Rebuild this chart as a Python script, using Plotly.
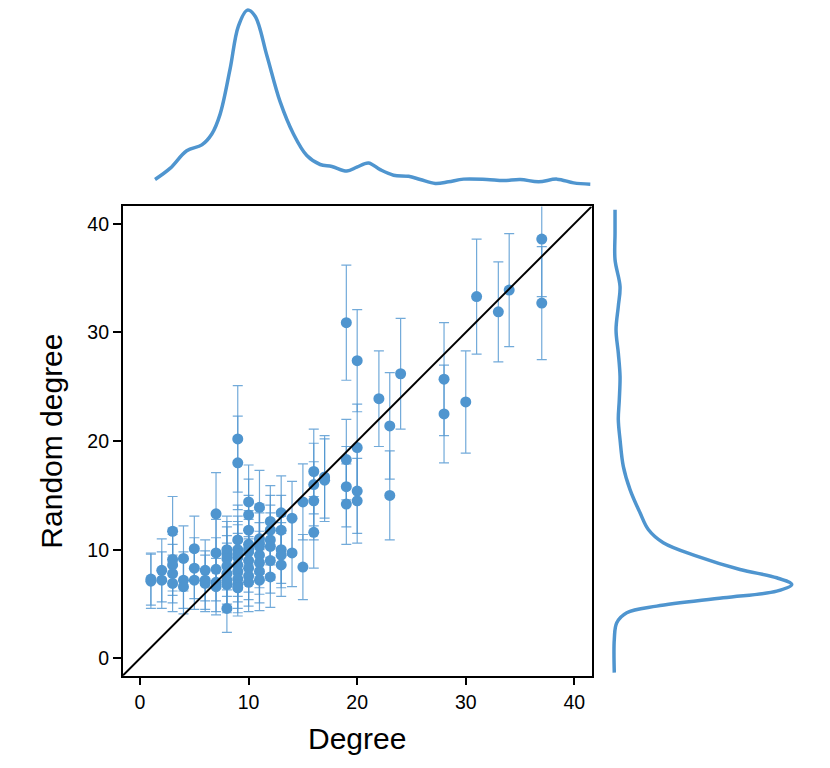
import plotly.graph_objects as go

# Observed degree vs. mean degree in randomised networks (with std)
degree = [1, 1, 2, 2, 3, 3, 3, 3, 3, 4, 4, 4, 5, 5, 5, 6, 6, 6,
          7, 7, 7, 7, 7, 8, 8, 8, 8, 8, 8, 8, 8,
          9, 9, 9, 9, 9, 9, 9, 9, 9, 9, 9,
          10, 10, 10, 10, 10, 10, 10, 10, 10, 10,
          11, 11, 11, 11, 11, 11, 11, 11,
          12, 12, 12, 12, 12, 12, 13, 13, 13, 13, 13,
          14, 14, 15, 15, 16, 16, 16, 16, 17, 17,
          19, 19, 19, 19, 20, 20, 20, 20, 22, 23, 23, 24,
          28, 28, 30, 31, 33, 34, 37, 37]
random_degree = [7.1, 7.3, 8.1, 7.2, 11.7, 9.1, 8.6, 7.8, 6.9, 9.2, 7.2, 6.6, 10.1, 8.3, 7.2, 8.1, 7.2, 6.9,
                 13.3, 9.7, 8.2, 7.0, 6.6, 10.0, 9.6, 9.2, 8.5, 7.8, 7.2, 6.8, 4.6,
                 20.2, 18.0, 10.9, 10.0, 9.6, 9.3, 8.6, 8.0, 7.3, 6.8, 6.5,
                 14.4, 13.2, 11.8, 10.5, 10.1, 9.8, 9.0, 8.3, 7.6, 7.0,
                 13.9, 11.0, 10.6, 10.3, 9.5, 8.8, 8.0, 7.2,
                 12.6, 11.8, 10.9, 10.3, 9.0, 7.5, 13.4, 11.8, 10.0, 9.5, 8.6,
                 12.9, 9.7, 14.4, 8.4, 17.2, 16.0, 14.5, 11.6, 16.4, 16.7,
                 30.9, 18.3, 15.8, 14.2, 27.4, 19.4, 15.4, 14.5, 23.9, 21.4, 15.0, 26.2,
                 25.7, 22.5, 23.6, 33.3, 31.9, 33.9, 38.6, 32.7]
random_std = [2.5, 2.4, 2.9, 2.6, 3.2, 2.9, 2.8, 2.7, 2.6, 3.0, 2.6, 2.5, 3.0, 2.8, 2.7, 2.8, 2.7, 2.6,
              3.8, 3.1, 2.9, 2.7, 2.6, 3.1, 3.0, 2.9, 2.8, 2.8, 2.7, 2.6, 2.2,
              4.9, 4.3, 3.2, 3.1, 3.0, 3.0, 2.9, 2.8, 2.7, 2.6, 2.6,
              3.4, 3.3, 3.2, 3.1, 3.1, 3.0, 2.9, 2.9, 2.8, 2.7,
              3.4, 3.2, 3.1, 3.1, 3.0, 2.9, 2.9, 2.8,
              3.3, 3.2, 3.2, 3.1, 3.0, 2.8, 3.4, 3.2, 3.1, 3.0, 2.9,
              3.4, 3.1, 3.5, 3.0, 3.9, 3.8, 3.6, 3.3, 3.8, 3.8,
              5.3, 3.7, 3.7, 3.7, 4.7, 4.0, 3.9, 3.9, 4.4, 4.9, 4.1, 5.1,
              5.2, 4.5, 4.7, 5.3, 4.6, 5.2, 5.3, 5.2]

# marginal density of degree (top)
deg_grid = [1.38, 2.76, 4.30, 5.69, 6.61, 7.37, 8.29, 9.06, 9.89, 10.60, 11.68, 12.90,
            14.13, 15.36, 16.59, 17.67, 19.05, 19.97, 21.04, 22.12, 23.35, 24.73,
            25.81, 27.19, 28.41, 29.80, 31.95, 33.48, 35.02, 36.71, 38.40, 39.94, 41.47]
deg_density = [0.0059, 0.0121, 0.0220, 0.0253, 0.0314, 0.0424, 0.0677, 0.0919, 0.1008, 0.0974,
               0.0754, 0.0495, 0.0314, 0.0193, 0.0143, 0.0132, 0.0106, 0.0128, 0.0152, 0.0114,
               0.0083, 0.0077, 0.0059, 0.0037, 0.0046, 0.0061, 0.0059, 0.0053, 0.0059, 0.0046,
               0.0061, 0.0040, 0.0033]

# marginal density of random degree (right)
rand_grid = [41.29, 39.15, 36.69, 34.23, 32.40, 30.25, 28.11, 25.96, 23.82, 21.98, 20.14,
             17.68, 15.54, 13.40, 11.86, 10.64, 9.41, 8.18, 7.42, 6.80, 6.19, 5.58, 4.81,
             4.20, 3.28, 1.75, -1.31]
rand_density = [0.0055, 0.0055, 0.0055, 0.0110, 0.0091, 0.0066, 0.0091, 0.0110, 0.0102, 0.0091,
                0.0110, 0.0146, 0.0220, 0.0330, 0.0421, 0.0586, 0.0954, 0.1430, 0.1834, 0.1999,
                0.1834, 0.1246, 0.0514, 0.0184, 0.0074, 0.0047, 0.0047]

axis_range = [-1.6, 41.6]
blue = '#4f95cf'

fig = go.Figure()

fig.add_trace(go.Scatter(
    x=degree, y=random_degree, mode='markers',
    marker=dict(color=blue, size=11),
    error_y=dict(type='data', array=random_std, color='rgba(79,149,207,0.8)',
                 thickness=1.2, width=5),
    xaxis='x', yaxis='y', showlegend=False))

fig.add_trace(go.Scatter(
    x=deg_grid, y=deg_density, mode='lines', line=dict(color=blue, width=3.5, shape='spline'),
    xaxis='x2', yaxis='y2', showlegend=False))

fig.add_trace(go.Scatter(
    x=rand_density, y=rand_grid, mode='lines', line=dict(color=blue, width=3.5, shape='spline'),
    xaxis='x3', yaxis='y3', showlegend=False))

# identity line
fig.add_shape(type='line', xref='x', yref='y',
              x0=axis_range[0], y0=axis_range[0], x1=axis_range[1], y1=axis_range[1],
              line=dict(color='black', width=2))

font = dict(family='Liberation Sans, Arial, sans-serif', color='black')

# page body has an 8px margin, so the figure is sized to the visible area
fig.update_layout(
    width=822, height=760,
    margin=dict(l=0, r=0, t=0, b=0),
    paper_bgcolor='white', plot_bgcolor='white',
    font=dict(size=19.5, **font),
    xaxis=dict(domain=[0.1395, 0.7101], range=axis_range, tickvals=[0, 10, 20, 30, 40],
               showline=True, mirror=True, linecolor='black', linewidth=1.5, automargin=False,
               ticks='outside', ticklen=8, tickwidth=1.5, tickcolor='black',
               showgrid=False, zeroline=False,
               title=dict(text='Degree', font=dict(size=30), standoff=16)),
    yaxis=dict(domain=[0.1214, 0.7389], range=axis_range, tickvals=[0, 10, 20, 30, 40],
               showline=True, mirror=True, linecolor='black', linewidth=1.5, automargin=False,
               ticks='outside', ticklen=8, tickwidth=1.5, tickcolor='black',
               showgrid=False, zeroline=False,
               title=dict(text='Random degree', font=dict(size=30), standoff=16)),
    xaxis2=dict(domain=[0.1395, 0.7101], range=axis_range, anchor='y2', visible=False),
    yaxis2=dict(domain=[0.7605, 1.0], range=[0, 0.102], anchor='x2', visible=False),
    xaxis3=dict(domain=[0.7324, 1.0], range=[0, 0.242], anchor='y3', visible=False),
    yaxis3=dict(domain=[0.1214, 0.7389], range=axis_range, anchor='x3', visible=False),
)

fig.write_html("out.html")
